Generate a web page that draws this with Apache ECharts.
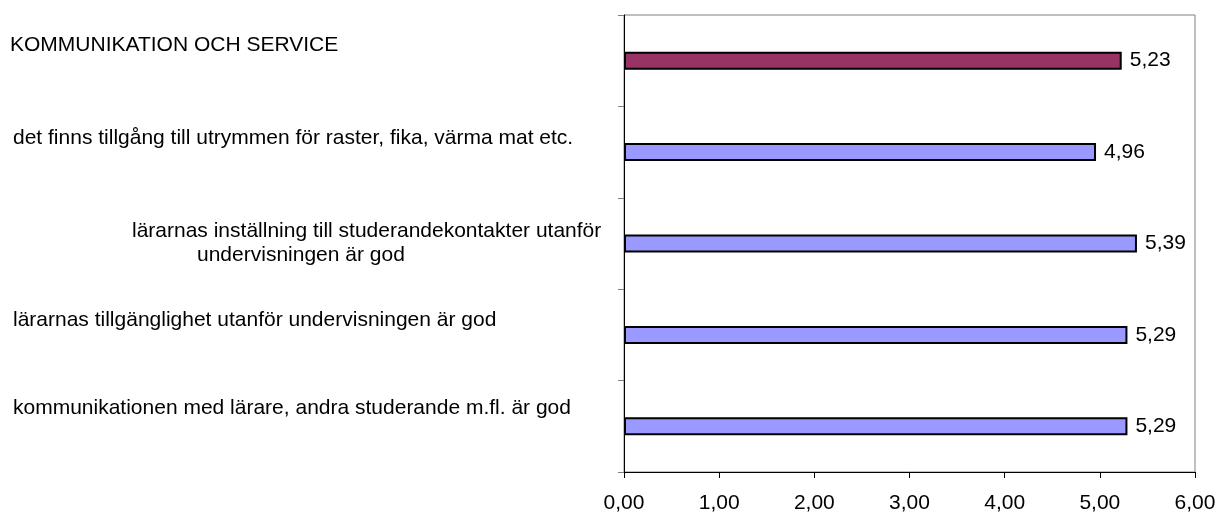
<!DOCTYPE html>
<html>
<head>
<meta charset="utf-8">
<script src="https://cdn.jsdelivr.net/npm/echarts@6/dist/echarts.min.js"></script>
<style>
  html, body { margin: 0; padding: 0; background: #fff; }
  #chart { width: 1219px; height: 514px; }
</style>
</head>
<body>
<div id="chart"></div>
<script>
  // data
  const categories = [
    'KOMMUNIKATION OCH SERVICE',
    'det finns tillgång till utrymmen för raster, fika, värma mat etc.',
    'lärarnas inställning till studerandekontakter utanför\nundervisningen är god',
    'lärarnas tillgänglighet utanför undervisningen är god',
    'kommunikationen med lärare, andra studerande m.fl. är god'
  ];
  const values = [5.23, 4.96, 5.39, 5.29, 5.29];
  const barColors = ['#993366', '#9999FF', '#9999FF', '#9999FF', '#9999FF'];
  const xMin = 0, xMax = 6, xStep = 1;

  // label nudges (text sits above its bar in the original)
  const labelLift = [31, 27, 0, 30, 36];
  const labelIndent = [0, 3, 0, 3, 3];

  const rich = {
    l1: { lineHeight: 24, padding: [0, 0, 0, 122] },
    l2: { lineHeight: 24, padding: [0, 0, 0, 187] }
  };
  labelLift.forEach((h, i) => {
    rich['t' + i] = { lineHeight: 24, padding: [0, 0, 0, labelIndent[i]] };
    rich['s' + i] = { lineHeight: h, fontSize: 4 };
  });

  const chart = echarts.init(document.getElementById('chart'));
  chart.setOption({
    animation: false,
    backgroundColor: '#fff',
    textStyle: { fontFamily: 'Liberation Sans, Arial, sans-serif' },
    grid: {
      left: 624, right: 24, top: 15, bottom: 42,
      show: true, borderColor: '#808080', borderWidth: 1
    },
    xAxis: {
      type: 'value',
      min: xMin, max: xMax, interval: xStep,
      axisLine: { show: true, lineStyle: { color: '#000', width: 1 } },
      axisTick: { show: true, length: 6, lineStyle: { color: '#000' } },
      splitLine: { show: false },
      axisLabel: {
        margin: 21, fontSize: 21, color: '#000',
        formatter: v => v.toFixed(2).replace('.', ',')
      }
    },
    yAxis: {
      type: 'category',
      inverse: true,
      data: categories,
      axisLine: { show: true, lineStyle: { color: '#000', width: 1 } },
      axisTick: { show: true, length: 6, lineStyle: { color: '#808080' } },
      axisLabel: {
        interval: 0,
        align: 'left',
        margin: 614,
        fontSize: 21,
        color: '#000',
        rich: rich,
        formatter: function (v, i) {
          if (v.indexOf('\n') >= 0) {
            const p = v.split('\n');
            return '{l1|' + p[0] + '}\n{l2|' + p[1] + '}';
          }
          return '{t' + i + '|' + v + '}\n{s' + i + '| }';
        }
      }
    },
    series: [{
      type: 'bar',
      barWidth: 18,
      data: values.map((v, i) => ({
        value: v,
        itemStyle: { color: barColors[i] }
      })),
      itemStyle: { borderColor: '#000', borderWidth: 2 },
      label: {
        show: true,
        position: 'right',
        distance: 8,
        fontSize: 21,
        color: '#000',
        formatter: p => p.value.toFixed(2).replace('.', ',')
      }
    }]
  });
</script>
</body>
</html>
